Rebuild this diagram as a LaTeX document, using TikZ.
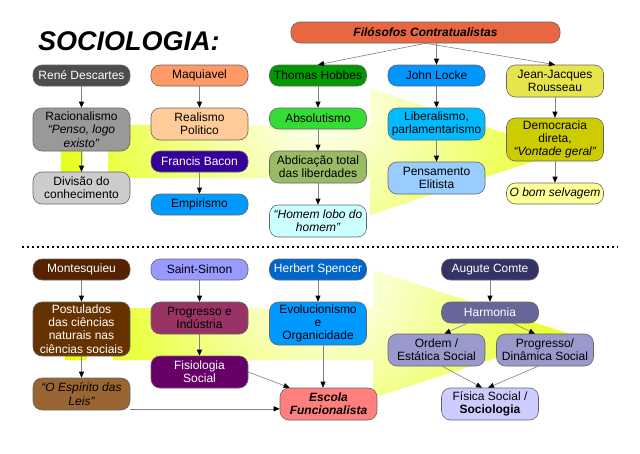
\documentclass[tikz,border=0pt]{standalone}
\usepackage{fontspec}
\setmainfont{Liberation Sans}
\usepackage{xcolor}
\usetikzlibrary{arrows.meta, positioning, calc}
\definecolor{hiyellow}{RGB}{228,255,0}
\definecolor{cfilo}{RGB}{233,102,66}
\definecolor{cdesc}{RGB}{77,77,77}
\definecolor{cmaq}{RGB}{255,153,102}
\definecolor{chob}{RGB}{0,153,0}
\definecolor{cloc}{RGB}{0,150,255}
\definecolor{crou}{RGB}{230,230,76}
\definecolor{craci}{RGB}{153,153,153}
\definecolor{creal}{RGB}{255,204,153}
\definecolor{cabso}{RGB}{51,221,51}
\definecolor{clibe}{RGB}{0,187,255}
\definecolor{cdemo}{RGB}{204,204,0}
\definecolor{cbacon}{RGB}{51,0,153}
\definecolor{cabdi}{RGB}{153,187,102}
\definecolor{cpens}{RGB}{153,204,255}
\definecolor{cdivi}{RGB}{204,204,204}
\definecolor{cempi}{RGB}{0,153,255}
\definecolor{chome}{RGB}{204,255,255}
\definecolor{cbom}{RGB}{255,255,153}
\definecolor{cmont}{RGB}{85,34,0}
\definecolor{cpost}{RGB}{102,51,0}
\definecolor{csaint}{RGB}{153,153,255}
\definecolor{cspen}{RGB}{0,102,204}
\definecolor{ccomte}{RGB}{51,51,102}
\definecolor{cprog}{RGB}{153,51,102}
\definecolor{cevol}{RGB}{0,153,255}
\definecolor{charm}{RGB}{102,102,153}
\definecolor{cfisio}{RGB}{102,0,102}
\definecolor{cespi}{RGB}{153,102,51}
\definecolor{cordem}{RGB}{153,153,204}
\definecolor{cescola}{RGB}{255,127,127}
\definecolor{cfisica}{RGB}{204,204,255}
\tikzset{
  box/.style={draw=black!60, line width=0.6pt, rounded corners=9pt, align=center, minimum width=97pt, minimum height=21pt, inner sep=1pt, font=\fontsize{12}{13.3}\selectfont},
  boxtwo/.style={box, minimum height=32pt},
  boxthree/.style={box, minimum height=43pt},
  boxfour/.style={box, minimum height=54pt},
  light/.style={text=white},
  arrow/.style={-{Triangle[length=6pt, width=5pt, color=black]}, line width=0.6pt, draw=black!50},
  sep/.style={line width=1.8pt, dash pattern=on 2pt off 3pt},
  title/.style={font=\fontsize{27}{30}\selectfont\bfseries\itshape, anchor=base west, inner sep=0pt}
}

\begin{document}
\begin{tikzpicture}[x=1pt,y=-1pt]
    \useasboundingbox (0,0) rectangle (640,453);
    % background arrows
    \begin{scope}
      \clip (61,125) -- (83,125) -- (83,178) -- (61,178) -- cycle
            (108,125) -- (370,125) -- (370,88) -- (562,152) -- (370,215) -- (370,178) -- (108,178) -- cycle;
      \shade[inner color=white, outer color=hiyellow] (320,100) circle (300pt);
    \end{scope}
    \begin{scope}
      \clip (65,308) -- (87,308) -- (87,360) -- (65,360) -- cycle
            (113,308) -- (373,308) -- (373,270) -- (570,334) -- (373,398) -- (373,360) -- (113,360) -- cycle;
      \shade[inner color=white, outer color=hiyellow] (330,280) circle (280pt);
    \end{scope}

    \node[title] (titulo) at (38,50) {SOCIOLOGIA:};

    % filosofos
    \node[box, minimum width=269pt, fill=cfilo, font=\fontsize{12}{13.3}\selectfont\bfseries\itshape] (filo) at (425.5,32.5) {Filósofos Contratualistas};
    \node[box, fill=cdesc, light] (desc) at (81.5,75.5) {René Descartes};
    \node[box, fill=cmaq] (maq) at (199.5,75.5) {Maquiavel};
    \node[box, fill=chob] (hob) at (318,75.5) {Thomas Hobbes};
    \node[box, fill=cloc] (loc) at (436.5,75.5) {John Locke};
    \node[boxtwo, fill=crou] (rou) at (555,81) {Jean-Jacques\\Rousseau};

    \node[boxthree, fill=craci] (raci) at (81.5,129.5) {Racionalismo\\\textit{“Penso, logo}\\\textit{existo”}};
    \node[boxtwo, fill=cdivi] (divi) at (81.5,188) {Divisão do\\conhecimento};
    \node[boxtwo, fill=creal] (real) at (199.5,124) {Realismo\\Politico};
    \node[box, fill=cbacon, light] (bacon) at (199.5,161.5) {Francis Bacon};
    \node[box, fill=cempi] (empi) at (199.5,204.5) {Empirismo};
    \node[box, fill=cabso] (abso) at (318,118.5) {Absolutismo};
    \node[boxtwo, fill=cabdi] (abdi) at (318,167) {Abdicação total\\das liberdades};
    \node[boxtwo, fill=chome, font=\fontsize{12}{13.3}\selectfont\itshape] (home) at (318,221) {“Homem lobo do\\homem”};
    \node[boxtwo, fill=clibe] (libe) at (436.5,124) {Liberalismo,\\parlamentarismo};
    \node[boxtwo, fill=cpens] (pens) at (436.5,178) {Pensamento\\Elitista};
    \node[boxthree, fill=cdemo] (demo) at (555,139.5) {Democracia\\direta,\\\textit{“Vontade geral”}};
    \node[box, fill=cbom, font=\fontsize{12}{13.3}\selectfont\itshape] (bom) at (555,193.5) {O bom selvagem};

    \draw[arrow] (filo.south) -- (hob.north);
    \draw[arrow] (filo.south -| loc.north) -- (loc.north);
    \draw[arrow] (filo.south) -- (rou.north);
    \draw[arrow] (desc) -- (raci);
    \draw[arrow] (raci) -- (divi);
    \draw[arrow] (maq) -- (real);
    \draw[arrow] (bacon) -- (empi);
    \draw[arrow] (hob) -- (abso);
    \draw[arrow] (abso) -- (abdi);
    \draw[arrow] (abdi) -- (home);
    \draw[arrow] (loc) -- (libe);
    \draw[arrow] (libe) -- (pens);
    \draw[arrow] (rou) -- (demo);
    \draw[arrow] (demo) -- (bom);

    \draw[sep] (22,247) -- (618,247);

    % sociologos
    \node[box, fill=cmont, light] (mont) at (81.5,269.5) {Montesquieu};
    \node[box, fill=csaint] (saint) at (199.5,269.5) {Saint-Simon};
    \node[box, fill=cspen, light] (spen) at (318,269.5) {Herbert Spencer};
    \node[box, fill=ccomte, light] (comte) at (490,269.5) {Augute Comte};

    \node[boxfour, fill=cpost, light] (post) at (81.5,329) {Postulados\\das ciências\\naturais nas\\ciências sociais};
    \node[boxtwo, fill=cespi, font=\fontsize{12}{13.3}\selectfont\itshape] (espi) at (81.5,394) {“O Espírito das\\Leis”};
    \node[boxtwo, fill=cprog, text=black] (prog) at (199.5,318) {Progresso e\\Indústria};
    \node[boxtwo, fill=cfisio, light] (fisio) at (199.5,372) {Fisiologia\\Social};
    \node[boxthree, fill=cevol] (evol) at (318,323.5) {Evolucionismo\\e\\Organicidade};
    \node[boxtwo, fill=cescola, font=\fontsize{12}{13.3}\selectfont\bfseries\itshape] (escola) at (328.5,404) {Escola\\Funcionalista};
    \node[box, fill=charm, light] (harm) at (490,312.5) {Harmonia};
    \node[boxtwo, fill=cordem] (ordem) at (436.5,350) {Ordem /\\Estática Social};
    \node[boxtwo, fill=cordem] (dina) at (545,350) {Progresso/\\Dinâmica Social};
    \node[boxtwo, fill=cfisica] (fisica) at (490,404) {Física Social /\\\textbf{Sociologia}};

    \draw[arrow] (mont) -- (post);
    \draw[arrow] (post) -- (espi);
    \draw[arrow] (saint) -- (prog);
    \draw[arrow] (prog) -- (fisio);
    \draw[arrow] (spen) -- (evol);
    \draw[arrow] ([xshift=5pt]evol.south) -- ([xshift=5pt]evol.south |- escola.north);
    \draw[arrow] (fisio.east) -- ([xshift=10pt]escola.north west);
    \draw[arrow] ([yshift=1.5pt]espi.south east) -- ([yshift=1.5pt]espi.south east -| escola.west);
    \draw[arrow] (comte) -- (harm);
    \draw[arrow] ([xshift=-23pt]harm.south) -- ([xshift=8pt]ordem.north);
    \draw[arrow] ([xshift=23pt]harm.south) -- ([xshift=-10pt]dina.north);
    \draw[arrow] ([xshift=6pt]ordem.south) -- ([xshift=-8pt]fisica.north);
    \draw[arrow] ([xshift=-7pt]dina.south) -- ([xshift=-2pt]fisica.north);
\end{tikzpicture}
\end{document}
